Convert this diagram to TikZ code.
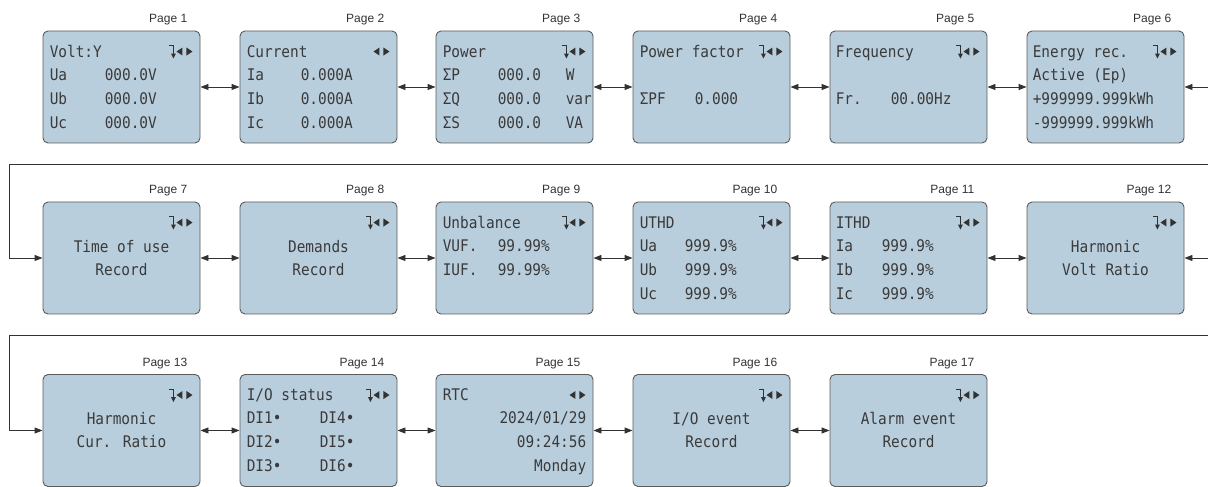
\documentclass[tikz,border=0pt]{standalone}
\usepackage{fontspec}
\setmainfont{Liberation Sans}
\newfontfamily\lcdfont[FakeStretch=0.9]{DejaVu Sans Mono}
\usetikzlibrary{arrows.meta}
\definecolor{screenfill}{RGB}{185,206,221}
\definecolor{screenedge}{RGB}{90,90,90}
\definecolor{lcdink}{RGB}{58,58,58}
\definecolor{wire}{RGB}{50,50,50}
\tikzset{
  screen/.style={draw=screenedge, fill=screenfill, line width=0.9pt, rounded corners=5pt,
    minimum width=157pt, minimum height=112pt, inner sep=0pt},
  lcd/.style={font=\lcdfont\fontsize{16}{16}\selectfont, text=lcdink, inner sep=0pt,
    text height=11.7pt, text depth=0pt, anchor=west},
  lcdr/.style={lcd, anchor=east},
  lcdc/.style={lcd, anchor=center},
  pagelabel/.style={font=\fontsize{12}{12}\selectfont, text=wire, inner sep=0pt,
    text height=8.6pt, text depth=0pt, anchor=east},
  twoway/.style={draw=wire, line width=0.9pt,
    {Triangle[length=8pt,width=6pt]}-{Triangle[length=8pt,width=6pt]}},
  oneway/.style={draw=wire, line width=0.9pt, -{Triangle[length=8pt,width=6pt]}},
  wrapline/.style={draw=wire, line width=0.9pt},
  navlr/.pic={
    \fill[wire] (-6,4) -- (0,0) -- (-6,-4) -- cycle;
    \fill[wire] (-10,4) -- (-16,0) -- (-10,-4) -- cycle;
  },
  navicon/.pic={
    \fill[wire] (-6,4) -- (0,0) -- (-6,-4) -- cycle;
    \fill[wire] (-10,4) -- (-16,0) -- (-10,-4) -- cycle;
    \draw[wire, line width=1pt] (-23,6) -- (-19,6) -- (-19,-2);
    \fill[wire] (-21.5,-2) -- (-16.5,-2) -- (-19,-7) -- cycle;
  }
}

\begin{document}
\begin{tikzpicture}[x=1pt,y=1pt]
  \useasboundingbox (0,0) rectangle (1208,487);

  % row 1
  \node[screen] (p1) at (121.5,400) {};
  \node[screen] (p2) at (318.5,400) {};
  \node[screen] (p3) at (514.5,400) {};
  \node[screen] (p4) at (711.5,400) {};
  \node[screen] (p5) at (908.5,400) {};
  \node[screen] (p6) at (1105.5,400) {};
  % row 2
  \node[screen] (p7) at (121.5,229) {};
  \node[screen] (p8) at (318.5,229) {};
  \node[screen] (p9) at (514.5,229) {};
  \node[screen] (p10) at (711.5,229) {};
  \node[screen] (p11) at (908.5,229) {};
  \node[screen] (p12) at (1105.5,229) {};
  % row 3
  \node[screen] (p13) at (121.5,56.5) {};
  \node[screen] (p14) at (318.5,56.5) {};
  \node[screen] (p15) at (514.5,56.5) {};
  \node[screen] (p16) at (711.5,56.5) {};
  \node[screen] (p17) at (908.5,56.5) {};

  % page titles
  \node[pagelabel] (l1) at ([shift={(-13,12)}]p1.north east) {Page 1};
  \node[pagelabel] (l2) at ([shift={(-13,12)}]p2.north east) {Page 2};
  \node[pagelabel] (l3) at ([shift={(-13,12)}]p3.north east) {Page 3};
  \node[pagelabel] (l4) at ([shift={(-13,12)}]p4.north east) {Page 4};
  \node[pagelabel] (l5) at ([shift={(-13,12)}]p5.north east) {Page 5};
  \node[pagelabel] (l6) at ([shift={(-13,12)}]p6.north east) {Page 6};
  \node[pagelabel] (l7) at ([shift={(-13,12)}]p7.north east) {Page 7};
  \node[pagelabel] (l8) at ([shift={(-13,12)}]p8.north east) {Page 8};
  \node[pagelabel] (l9) at ([shift={(-13,12)}]p9.north east) {Page 9};
  \node[pagelabel] (l10) at ([shift={(-13,12)}]p10.north east) {Page 10};
  \node[pagelabel] (l11) at ([shift={(-13,12)}]p11.north east) {Page 11};
  \node[pagelabel] (l12) at ([shift={(-13,12)}]p12.north east) {Page 12};
  \node[pagelabel] (l13) at ([shift={(-13,12)}]p13.north east) {Page 13};
  \node[pagelabel] (l14) at ([shift={(-13,12)}]p14.north east) {Page 14};
  \node[pagelabel] (l15) at ([shift={(-13,12)}]p15.north east) {Page 15};
  \node[pagelabel] (l16) at ([shift={(-13,12)}]p16.north east) {Page 16};
  \node[pagelabel] (l17) at ([shift={(-13,12)}]p17.north east) {Page 17};

  % navigation icons
  \pic at ([shift={(-8,-21)}]p1.north east) {navicon};
  \pic at ([shift={(-8,-21)}]p2.north east) {navlr};
  \pic at ([shift={(-8,-21)}]p3.north east) {navicon};
  \pic at ([shift={(-8,-21)}]p4.north east) {navicon};
  \pic at ([shift={(-8,-21)}]p5.north east) {navicon};
  \pic at ([shift={(-8,-21)}]p6.north east) {navicon};
  \pic at ([shift={(-8,-21)}]p7.north east) {navicon};
  \pic at ([shift={(-8,-21)}]p8.north east) {navicon};
  \pic at ([shift={(-8,-21)}]p9.north east) {navicon};
  \pic at ([shift={(-8,-21)}]p10.north east) {navicon};
  \pic at ([shift={(-8,-21)}]p11.north east) {navicon};
  \pic at ([shift={(-8,-21)}]p12.north east) {navicon};
  \pic at ([shift={(-8,-21)}]p13.north east) {navicon};
  \pic at ([shift={(-8,-21)}]p14.north east) {navicon};
  \pic at ([shift={(-8,-21)}]p15.north east) {navlr};
  \pic at ([shift={(-8,-21)}]p16.north east) {navicon};
  \pic at ([shift={(-8,-21)}]p17.north east) {navicon};

  % page 1
  \node[lcd] (p1t) at ([shift={(7,-21)}]p1.north west) {Volt:Y};
  \node[lcd] (p1a) at ([shift={(7,-44)}]p1.north west) {Ua};
  \node[lcd] (p1av) at ([shift={(62,-44)}]p1.north west) {000.0V};
  \node[lcd] (p1b) at ([shift={(7,-68)}]p1.north west) {Ub};
  \node[lcd] (p1bv) at ([shift={(62,-68)}]p1.north west) {000.0V};
  \node[lcd] (p1c) at ([shift={(7,-92)}]p1.north west) {Uc};
  \node[lcd] (p1cv) at ([shift={(62,-92)}]p1.north west) {000.0V};
  % page 2
  \node[lcd] (p2t) at ([shift={(7,-21)}]p2.north west) {Current};
  \node[lcd] (p2a) at ([shift={(7,-44)}]p2.north west) {Ia};
  \node[lcd] (p2av) at ([shift={(61,-44)}]p2.north west) {0.000A};
  \node[lcd] (p2b) at ([shift={(7,-68)}]p2.north west) {Ib};
  \node[lcd] (p2bv) at ([shift={(61,-68)}]p2.north west) {0.000A};
  \node[lcd] (p2c) at ([shift={(7,-92)}]p2.north west) {Ic};
  \node[lcd] (p2cv) at ([shift={(61,-92)}]p2.north west) {0.000A};
  % page 3
  \node[lcd] (p3t) at ([shift={(7,-21)}]p3.north west) {Power};
  \node[lcd] (p3a) at ([shift={(7,-44)}]p3.north west) {ΣP};
  \node[lcd] (p3av) at ([shift={(62,-44)}]p3.north west) {000.0};
  \node[lcd] (p3au) at ([shift={(130,-44)}]p3.north west) {W};
  \node[lcd] (p3b) at ([shift={(7,-68)}]p3.north west) {ΣQ};
  \node[lcd] (p3bv) at ([shift={(62,-68)}]p3.north west) {000.0};
  \node[lcd] (p3bu) at ([shift={(130,-68)}]p3.north west) {var};
  \node[lcd] (p3c) at ([shift={(7,-92)}]p3.north west) {ΣS};
  \node[lcd] (p3cv) at ([shift={(62,-92)}]p3.north west) {000.0};
  \node[lcd] (p3cu) at ([shift={(130,-92)}]p3.north west) {VA};
  % page 4
  \node[lcd] (p4t) at ([shift={(7,-21)}]p4.north west) {Power factor};
  \node[lcd] (p4a) at ([shift={(7,-68)}]p4.north west) {ΣPF};
  \node[lcd] (p4av) at ([shift={(62,-68)}]p4.north west) {0.000};
  % page 5
  \node[lcd] (p5t) at ([shift={(6,-21)}]p5.north west) {Frequency};
  \node[lcd] (p5a) at ([shift={(6,-68)}]p5.north west) {Fr.};
  \node[lcd] (p5av) at ([shift={(61,-68)}]p5.north west) {00.00Hz};
  % page 6
  \node[lcd] (p6t) at ([shift={(6,-21)}]p6.north west) {Energy rec.};
  \node[lcd] (p6a) at ([shift={(6,-44)}]p6.north west) {Active (Ep)};
  \node[lcd] (p6b) at ([shift={(6,-68)}]p6.north west) {+999999.999kWh};
  \node[lcd] (p6c) at ([shift={(6,-92)}]p6.north west) {-999999.999kWh};
  % page 7
  \node[lcdc] (p7a) at ([yshift=-45]p7.north) {Time of use};
  \node[lcdc] (p7b) at ([yshift=-68]p7.north) {Record};
  % page 8
  \node[lcdc] (p8a) at ([yshift=-45]p8.north) {Demands};
  \node[lcdc] (p8b) at ([yshift=-68]p8.north) {Record};
  % page 9
  \node[lcd] (p9t) at ([shift={(7,-21)}]p9.north west) {Unbalance};
  \node[lcd] (p9a) at ([shift={(7,-44)}]p9.north west) {VUF.};
  \node[lcd] (p9av) at ([shift={(62,-44)}]p9.north west) {99.99\%};
  \node[lcd] (p9b) at ([shift={(7,-68)}]p9.north west) {IUF.};
  \node[lcd] (p9bv) at ([shift={(62,-68)}]p9.north west) {99.99\%};
  % page 10
  \node[lcd] (p10t) at ([shift={(7,-21)}]p10.north west) {UTHD};
  \node[lcd] (p10a) at ([shift={(7,-44)}]p10.north west) {Ua};
  \node[lcd] (p10av) at ([shift={(52,-44)}]p10.north west) {999.9\%};
  \node[lcd] (p10b) at ([shift={(7,-68)}]p10.north west) {Ub};
  \node[lcd] (p10bv) at ([shift={(52,-68)}]p10.north west) {999.9\%};
  \node[lcd] (p10c) at ([shift={(7,-92)}]p10.north west) {Uc};
  \node[lcd] (p10cv) at ([shift={(52,-92)}]p10.north west) {999.9\%};
  % page 11
  \node[lcd] (p11t) at ([shift={(6,-21)}]p11.north west) {ITHD};
  \node[lcd] (p11a) at ([shift={(6,-44)}]p11.north west) {Ia};
  \node[lcd] (p11av) at ([shift={(52,-44)}]p11.north west) {999.9\%};
  \node[lcd] (p11b) at ([shift={(6,-68)}]p11.north west) {Ib};
  \node[lcd] (p11bv) at ([shift={(52,-68)}]p11.north west) {999.9\%};
  \node[lcd] (p11c) at ([shift={(6,-92)}]p11.north west) {Ic};
  \node[lcd] (p11cv) at ([shift={(52,-92)}]p11.north west) {999.9\%};
  % page 12
  \node[lcdc] (p12a) at ([yshift=-45]p12.north) {Harmonic};
  \node[lcdc] (p12b) at ([yshift=-68]p12.north) {Volt Ratio};
  % page 13
  \node[lcdc] (p13a) at ([yshift=-45]p13.north) {Harmonic};
  \node[lcdc] (p13b) at ([yshift=-68]p13.north) {Cur. Ratio};
  % page 14
  \node[lcd] (p14t) at ([shift={(7,-21)}]p14.north west) {I/O status};
  \node[lcd] (p14a) at ([shift={(7,-44)}]p14.north west) {DI1•};
  \node[lcd] (p14d) at ([shift={(80,-44)}]p14.north west) {DI4•};
  \node[lcd] (p14b) at ([shift={(7,-68)}]p14.north west) {DI2•};
  \node[lcd] (p14e) at ([shift={(80,-68)}]p14.north west) {DI5•};
  \node[lcd] (p14c) at ([shift={(7,-92)}]p14.north west) {DI3•};
  \node[lcd] (p14f) at ([shift={(80,-92)}]p14.north west) {DI6•};
  % page 15
  \node[lcd] (p15t) at ([shift={(7,-21)}]p15.north west) {RTC};
  \node[lcdr] (p15a) at ([shift={(-7,-44)}]p15.north east) {2024/01/29};
  \node[lcdr] (p15b) at ([shift={(-7,-68)}]p15.north east) {09:24:56};
  \node[lcdr] (p15c) at ([shift={(-7,-92)}]p15.north east) {Monday};
  % page 16
  \node[lcdc] (p16a) at ([yshift=-45]p16.north) {I/O event};
  \node[lcdc] (p16b) at ([yshift=-68]p16.north) {Record};
  % page 17
  \node[lcdc] (p17a) at ([yshift=-45]p17.north) {Alarm event};
  \node[lcdc] (p17b) at ([yshift=-68]p17.north) {Record};

  % links inside each row
  \draw[twoway] (p1) -- (p2);
  \draw[twoway] (p2) -- (p3);
  \draw[twoway] (p3) -- (p4);
  \draw[twoway] (p4) -- (p5);
  \draw[twoway] (p5) -- (p6);
  \draw[twoway] (p7) -- (p8);
  \draw[twoway] (p8) -- (p9);
  \draw[twoway] (p9) -- (p10);
  \draw[twoway] (p10) -- (p11);
  \draw[twoway] (p11) -- (p12);
  \draw[twoway] (p13) -- (p14);
  \draw[twoway] (p14) -- (p15);
  \draw[twoway] (p15) -- (p16);
  \draw[twoway] (p16) -- (p17);

  % entries from the right edge
  \coordinate (e1) at (1208,400);
  \coordinate (e2) at (1208,229);
  \draw[oneway] (e1) -- (p6.east);
  \draw[oneway] (e2) -- (p12.east);

  % wrap to the next row
  \coordinate (w1) at (1208,323);
  \coordinate (c1) at (9,323);
  \coordinate (w2) at (1208,152);
  \coordinate (c2) at (9,152);
  \draw[oneway] (w1) -- (c1) |- (p7.west);
  \draw[oneway] (w2) -- (c2) |- (p13.west);
\end{tikzpicture}
\end{document}
